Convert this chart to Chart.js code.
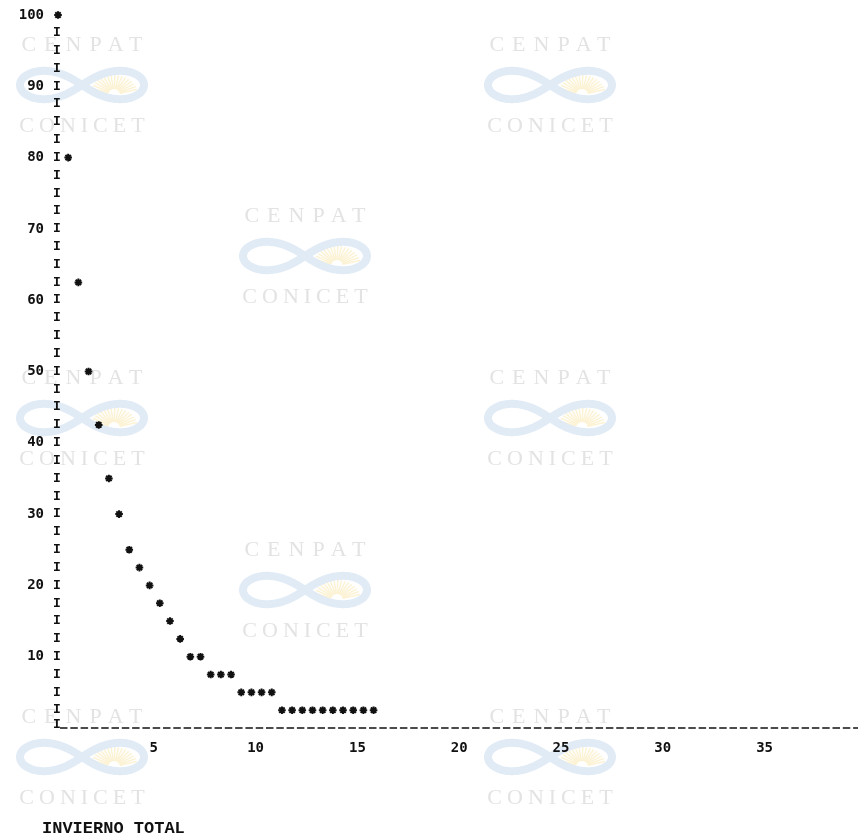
<!DOCTYPE html>
<html><head><meta charset="utf-8">
<script src="https://cdn.jsdelivr.net/npm/chart.js@4/dist/chart.umd.min.js"></script>
<style>html,body{margin:0;padding:0;background:#fff;}#wrap{width:858px;height:839px;}</style>
</head><body><div id="wrap"><canvas id="c" width="858" height="839"></canvas></div>
<script>
// ---- data ----
const xValues = [0,0.5,1,1.5,2,2.5,3,3.5,4,4.5,5,5.5,6,6.5,7,7.5,8,8.5,9,9.5,10,10.5,11,11.5,12,12.5,13,13.5,14,14.5,15,15.5];
const yValues = [100,80,62.5,50,42.5,35,30,25,22.5,20,17.5,15,12.5,10,10,7.5,7.5,7.5,5,5,5,5,2.5,2.5,2.5,2.5,2.5,2.5,2.5,2.5,2.5,2.5];
const xTickLabels = [5,10,15,20,25,30,35];
const yTickLabels = [10,20,30,40,50,60,70,80,90,100];
const titleText = 'INVIERNO TOTAL';
const watermarkTop = 'CENPAT';
const watermarkBottom = 'CONICET';
const watermarkCenters = [[82,45],[550,45],[305,216],[82,378],[550,378],[305,550],[82,717],[550,717]];

const points = xValues.map((v,i)=>({x:v, y:yValues[i]}));

function drawLogo(ctx, cx, cy){
  ctx.save();
  ctx.strokeStyle = '#fcf2d4';
  ctx.lineWidth = 1.5;
  const sx = cx + 32, sy = cy + 10;
  for (let a = 200; a <= 345; a += 9){
    const r = a*Math.PI/180;
    ctx.beginPath();
    ctx.moveTo(sx + Math.cos(r)*6, sy + Math.sin(r)*6);
    ctx.lineTo(sx + Math.cos(r)*24, sy + Math.sin(r)*20);
    ctx.stroke();
  }
  ctx.strokeStyle = 'rgba(222,233,245,0.9)';
  ctx.lineCap = 'round';
  ctx.beginPath();
  for (let i = 0; i <= 200; i++){
    const t = i/200*2*Math.PI;
    const d = 1 + Math.sin(t)*Math.sin(t);
    const px = cx + 62*Math.cos(t)/d;
    const py = cy - 40*Math.sin(t)*Math.cos(t)/d;
    if (i===0) ctx.moveTo(px,py); else ctx.lineTo(px,py);
  }
  ctx.lineWidth = 8;
  ctx.stroke();
  ctx.restore();
}

const watermark = {
  id:'watermark',
  beforeDraw(chart){
    const ctx = chart.ctx;
    ctx.save();
    ctx.textAlign = 'center';
    ctx.textBaseline = 'middle';
    ctx.fillStyle = '#e3e3e3';
    watermarkCenters.forEach(([cx,cy])=>{
      drawLogo(ctx, cx, cy + 40);
      ctx.font = '22px "Liberation Serif"';
      ctx.letterSpacing = '8px';
      ctx.fillText(watermarkTop, cx + 4, cy);
      ctx.letterSpacing = '5px';
      ctx.fillText(watermarkBottom, cx + 2.5, cy + 81);
      ctx.letterSpacing = '0px';
    });
    ctx.restore();
  }
};

// line-printer style axes: column of "I" for y, dashed rule for x
const printerAxes = {
  id:'printerAxes',
  afterLayout(chart){
    if (chart.titleBlock) chart.titleBlock.left = 42;
  },
  afterDatasetsDraw(chart){
    const {ctx, scales:{x, y}} = chart;
    const px = x.getPixelForValue(0);
    const py = y.getPixelForValue(0);
    ctx.save();
    ctx.strokeStyle = '#111';
    ctx.lineWidth = 1.5;
    ctx.setLineDash([7.5, 2.8]);
    ctx.beginPath();
    ctx.moveTo(px + 2, py);
    ctx.lineTo(chart.width, py);
    ctx.stroke();
    ctx.setLineDash([]);
    const taken = new Set();
    xValues.forEach((v,i)=>{ if (v === 0) taken.add(yValues[i]); });
    ctx.font = 'bold 13px "Liberation Mono"';
    ctx.fillStyle = '#111';
    ctx.textAlign = 'center';
    ctx.textBaseline = 'middle';
    for (let v = 0; v < 100; v += 2.5){
      if (!taken.has(v)) ctx.fillText('I', px - 1, y.getPixelForValue(v) - (v === 0 ? 3 : 0));
    }
    ctx.restore();
  }
};

const tickFont = {family:'"DejaVu Sans Mono"', size:14, weight:'bold'};

new Chart(document.getElementById('c'), {
  type:'scatter',
  data:{datasets:[{
    data: points,
    pointStyle:'star',
    pointRadius:3.8,
    pointBorderWidth:2,
    borderColor:'#111',
    backgroundColor:'#111',
    clip:false
  }]},
  options:{
    responsive:false,
    animation:false,
    events:[],
    layout:{padding:{left:0, top:15, right:0, bottom:0}},
    plugins:{
      legend:{display:false},
      tooltip:{enabled:false},
      title:{
        display:true, text:titleText, position:'bottom', align:'start',
        color:'#111', padding:{top:0,bottom:0},
        font:{family:'"Liberation Mono"', size:17, weight:'bold'}
      }
    },
    scales:{
      x:{
        type:'linear', min:0, max:39,
        afterFit(s){ s.height = 90.6; s.paddingLeft = 0; s.paddingRight = 0; },
        afterBuildTicks(s){ s.ticks = xTickLabels.map(v=>({value:v})); },
        grid:{display:false, drawTicks:false},
        border:{display:false},
        ticks:{color:'#111', font:tickFont, padding:12, labelOffset:-6, maxRotation:0, autoSkip:false}
      },
      y:{
        type:'linear', min:0, max:100,
        afterFit(s){ s.width = 58; s.paddingTop = 0; s.paddingBottom = 0; },
        afterBuildTicks(s){ s.ticks = yTickLabels.map(v=>({value:v})); },
        grid:{display:false, drawTicks:false},
        border:{display:false},
        ticks:{color:'#111', font:tickFont, padding:14, autoSkip:false}
      }
    }
  },
  plugins:[watermark, printerAxes]
});
</script>
</body></html>
